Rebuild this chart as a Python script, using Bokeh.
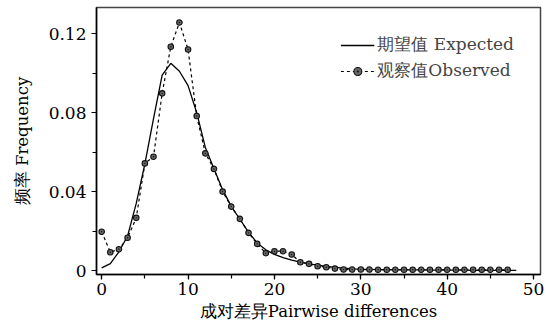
from bokeh.plotting import figure
from bokeh.embed import file_html
from bokeh.resources import INLINE
from bokeh.models import (Range1d, SingleIntervalTicker, NumeralTickFormatter,
                          Legend, LegendItem)

# ---- data ----
x_obs = list(range(0, 48))
observed = [0.0197, 0.0093, 0.0108, 0.0166, 0.0267, 0.0543, 0.0577, 0.0898,
            0.1134, 0.1257, 0.1120, 0.0783, 0.0594, 0.0515, 0.0400, 0.0324,
            0.0262, 0.0191, 0.0135, 0.0088, 0.0098, 0.0098, 0.0081, 0.0042,
            0.0034, 0.0022, 0.0017, 0.0010, 0.0005, 0.0005, 0.0005, 0.0005,
            0.0004, 0.0004, 0.0004, 0.0004, 0.0004, 0.0004, 0.0004, 0.0004,
            0.0004, 0.0004, 0.0004, 0.0004, 0.0004, 0.0004, 0.0004, 0.0004]
x_exp = list(range(0, 49))
expected = [0.0014, 0.0035, 0.0095, 0.0175, 0.0340, 0.0540, 0.0770, 0.0990,
            0.1050, 0.1010, 0.0937, 0.0800, 0.0624, 0.0516, 0.0410, 0.0325,
            0.0260, 0.0195, 0.0140, 0.0105, 0.0082, 0.0066, 0.0053, 0.0043,
            0.0034, 0.0027, 0.0021, 0.0016, 0.0012, 0.0009, 0.0007, 0.0006,
            0.0005, 0.0004, 0.0004, 0.0003, 0.0003, 0.0003, 0.0002, 0.0002,
            0.0002, 0.0002, 0.0002, 0.0001, 0.0001, 0.0001, 0.0001, 0.0001,
            0.0001]

label_expected = "期望值 Expected"
label_observed = "观察值Observed"
x_title = "成对差异Pairwise differences"
y_title = "频率 Frequency"

FONT = "DejaVu Serif"

p = figure(width=546, height=325, output_backend="svg", toolbar_location=None,
           x_range=Range1d(-0.6, 50.8), y_range=Range1d(-0.002, 0.1333),
           min_border_left=96, min_border_right=6, min_border_top=7,
           min_border_bottom=51)
p.grid.visible = False
p.outline_line_color = "#444444"
p.outline_line_width = 1.5

l1 = p.line(x_exp, expected, line_color="black", line_width=1.3)
l2 = p.line(x_obs, observed, line_color="black", line_width=1.2, line_dash="3 3")
s2 = p.scatter(x_obs, observed, marker="circle_dot", size=5.5,
               fill_color="#666666", line_color="#111111", line_width=1.1)

p.xaxis.ticker = SingleIntervalTicker(interval=10, num_minor_ticks=2)
p.yaxis.ticker = SingleIntervalTicker(interval=0.04, num_minor_ticks=2)
p.yaxis.formatter = NumeralTickFormatter(format="0.[00]")

for ax in (p.xaxis[0], p.yaxis[0]):
    ax.axis_line_color = "black"
    ax.axis_line_width = 1.5
    ax.major_tick_in = 0
    ax.major_tick_out = 5
    ax.minor_tick_in = 0
    ax.minor_tick_out = 4
    ax.major_tick_line_width = 1.2
    ax.minor_tick_line_width = 1.2
    ax.major_label_text_font = FONT
    ax.major_label_text_font_size = "17px"
    ax.major_label_text_color = "black"
    ax.axis_label_text_font = FONT
    ax.axis_label_text_font_size = "16.5px"
    ax.axis_label_text_font_style = "normal"
    ax.axis_label_text_color = "black"

p.xaxis.axis_label = x_title
p.yaxis.axis_label = y_title
p.xaxis.axis_label_standoff = 4
p.yaxis.axis_label_standoff = 14
p.xaxis.major_label_standoff = 3
p.yaxis.major_label_standoff = 5

legend = Legend(items=[LegendItem(label=label_expected, renderers=[l1]),
                       LegendItem(label=label_observed, renderers=[l2, s2])],
                location="top_right")
legend.border_line_color = None
legend.background_fill_alpha = 0
legend.label_text_font = FONT
legend.label_text_font_size = "17px"
legend.glyph_width = 34
legend.label_standoff = 3
legend.spacing = 3
legend.padding = 0
legend.margin = 26
p.add_layout(legend)

open("out.html", "w").write(file_html(p, INLINE))
